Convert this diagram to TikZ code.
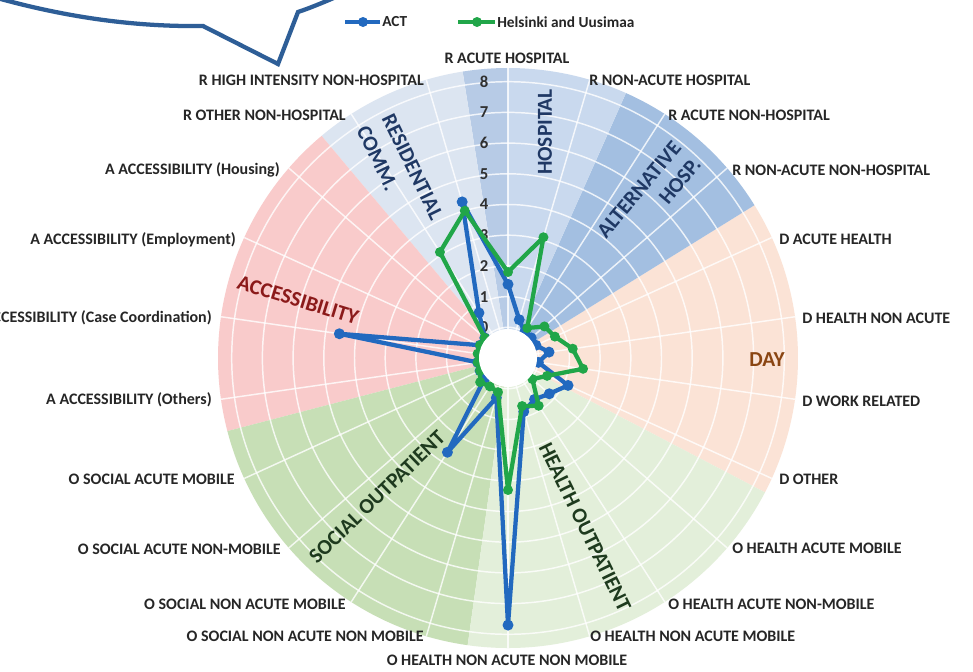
\documentclass[tikz,border=0pt]{standalone}
\usepackage{fontspec}
\setmainfont{Carlito}
\definecolor{actblue}{HTML}{2269BF}
\definecolor{helgreen}{HTML}{21A649}
\definecolor{labelgray}{HTML}{262626}
\definecolor{numgray}{HTML}{303030}
\definecolor{navy}{HTML}{1F3864}
\definecolor{dayc}{HTML}{FBE3D6}
\definecolor{althosp}{HTML}{A3BFE1}
\definecolor{hospA}{HTML}{C9D9EE}
\definecolor{hospB}{HTML}{B7CBE6}
\definecolor{resid}{HTML}{DCE5F1}
\definecolor{access}{HTML}{F9CBCB}
\definecolor{social}{HTML}{C7DFB6}
\definecolor{health}{HTML}{E3EFDA}
\definecolor{dayt}{HTML}{8A4512}
\definecolor{acct}{HTML}{8B1A1A}
\definecolor{greent}{HTML}{1E3A1E}
\definecolor{bubble}{HTML}{2E5E97}
\begin{document}
\begin{tikzpicture}[x=0.75pt,y=0.75pt,
  lbl/.style={font=\bfseries\fontsize{12}{14}\selectfont, text=labelgray, inner sep=0pt},
  cat/.style={font=\bfseries\fontsize{16}{19}\selectfont, inner sep=0pt},
  num/.style={font=\bfseries\fontsize{12.5}{14}\selectfont, text=numgray, inner sep=0pt},
  leg/.style={font=\bfseries\fontsize{11.5}{14}\selectfont, text=labelgray, inner sep=0pt, anchor=west},
  actline/.style={draw=actblue, line width=3.2pt, line join=round},
  helline/.style={draw=helgreen, line width=3.2pt, line join=round},
  gridline/.style={draw=white, line width=1.1pt, opacity=0.8}
]
\useasboundingbox (0,-671) rectangle (973,0);
\clip (0,-671) rectangle (973,0);
\fill[white] (0,-671) rectangle (973,0);
\coordinate (C) at (508,-358);

% background wedges
\fill[dayc]   (C) -- ([shift={(508,-358)}]-27.6:290) arc[start angle=-27.6, end angle=31.8, radius=290] -- cycle;
\fill[althosp](C) -- ([shift={(508,-358)}]31.8:290) arc[start angle=31.8, end angle=66, radius=290] -- cycle;
\fill[hospA]  (C) -- ([shift={(508,-358)}]66:290) arc[start angle=66, end angle=90, radius=290] -- cycle;
\fill[hospB]  (C) -- ([shift={(508,-358)}]90:290) arc[start angle=90, end angle=99, radius=290] -- cycle;
\fill[resid]  (C) -- ([shift={(508,-358)}]99:290) arc[start angle=99, end angle=130, radius=290] -- cycle;
\fill[access] (C) -- ([shift={(508,-358)}]130:290) arc[start angle=130, end angle=194.6, radius=290] -- cycle;
\fill[social] (C) -- ([shift={(508,-358)}]194.6:290) arc[start angle=194.6, end angle=262, radius=290] -- cycle;
\fill[health] (C) -- ([shift={(508,-358)}]262:290) arc[start angle=262, end angle=332.4, radius=290] -- cycle;

% grid
\foreach \k in {1,...,9} \draw[gridline] (C) circle ({30.7*\k});
\foreach \i in {0,...,21} \draw[gridline] (C) -- ([shift={(508,-358)}]{90-\i*360/22}:290);

% category labels
\node[cat, text=navy, rotate=90] (catHosp) at (545,-132) {HOSPITAL};
\node[cat, text=navy, rotate=-64, align=left, font=\bfseries\fontsize{16}{21}\selectfont] (catRes) at (400,-173) {RESIDENTIAL\\COMM.};
\node[cat, text=navy, rotate=50, align=right, font=\bfseries\fontsize{16}{19.5}\selectfont] (catAlt) at (649,-198) {ALTERNATIVE\\HOSP.};
\node[cat, text=dayt] (catDay) at (767,-360) {DAY};
\node[cat, text=greent, rotate=-64] (catHealth) at (585,-527) {HEALTH OUTPATIENT};
\node[cat, text=greent, rotate=44] (catSocial) at (377,-497) {SOCIAL OUTPATIENT};
\node[cat, text=acct, rotate=-17] (catAcc) at (298,-300) {ACCESSIBILITY};

% scale numbers
\foreach \n in {0,...,8} \node[num] (num\n) at (484,{-358+30.7*(\n+1)}) {\n};

% axis labels
\node[lbl] (l0) at (507,-58) {R ACUTE HOSPITAL};
\node[lbl, anchor=west] (l1) at (589,-80) {R NON-ACUTE HOSPITAL};
\node[lbl, anchor=west] (l2) at (668,-115) {R ACUTE NON-HOSPITAL};
\node[lbl, anchor=west] (l3) at (732,-170) {R NON-ACUTE NON-HOSPITAL};
\node[lbl, anchor=west] (l4) at (779,-239) {D ACUTE HEALTH};
\node[lbl, anchor=west] (l5) at (802,-318) {D HEALTH NON ACUTE};
\node[lbl, anchor=west] (l6) at (802,-401) {D WORK RELATED};
\node[lbl, anchor=west] (l7) at (779,-479) {D OTHER};
\node[lbl, anchor=west] (l8) at (732,-548) {O HEALTH ACUTE MOBILE};
\node[lbl, anchor=west] (l9) at (668,-604) {O HEALTH ACUTE NON-MOBILE};
\node[lbl, anchor=west] (l10) at (590,-636) {O HEALTH NON ACUTE MOBILE};
\node[lbl] (l11) at (507,-660) {O HEALTH NON ACUTE NON MOBILE};
\node[lbl, anchor=east] (l12) at (424,-636) {O SOCIAL NON ACUTE NON MOBILE};
\node[lbl, anchor=east] (l13) at (346,-604) {O SOCIAL NON ACUTE MOBILE};
\node[lbl, anchor=east] (l14) at (281,-549) {O SOCIAL ACUTE NON-MOBILE};
\node[lbl, anchor=east] (l15) at (235,-479) {O SOCIAL ACUTE MOBILE};
\node[lbl, anchor=east] (l16) at (212,-400) {A ACCESSIBILITY (Others)};
\node[lbl, anchor=east] (l17) at (212,-318) {A ACCESSIBILITY (Case Coordination)};
\node[lbl, anchor=east] (l18) at (236,-240) {A ACCESSIBILITY (Employment)};
\node[lbl, anchor=east] (l19) at (280,-170) {A ACCESSIBILITY (Housing)};
\node[lbl, anchor=east] (l20) at (346,-115) {R OTHER NON-HOSPITAL};
\node[lbl, anchor=east] (l21) at (424,-80) {R HIGH INTENSITY NON-HOSPITAL};

% data points
\foreach \v [count=\i from 0] in {1.4,0.3,0,0,0,0.35,0,1.15,0.78,0.6,0.82,7.7,0.35,2.65,0,0,0,4.55,0,0,0.75,4.3}
  {\pgfmathsetmacro\ang{90-\i*360/22}\pgfmathsetmacro\rad{30.7*(\v+1)}
   \coordinate (a\i) at ([shift={(508,-358)}]\ang:\rad);}
\foreach \v [count=\i from 0] in {1.8,3.1,0.16,0.57,0.68,1.13,1.47,0.4,0.05,0.85,0.63,3.3,0.16,0.1,0.2,0,0,0,0,0,3.1,4.0}
  {\pgfmathsetmacro\ang{90-\i*360/22}\pgfmathsetmacro\rad{30.7*(\v+1)}
   \coordinate (b\i) at ([shift={(508,-358)}]\ang:\rad);}

\draw[actline] (a0) \foreach \i in {1,...,21}{ -- (a\i)} -- cycle;
\foreach \i in {0,...,21} \fill[actblue] (a\i) circle (5.5);
\draw[helline] (b0) \foreach \i in {1,...,21}{ -- (b\i)} -- cycle;
\foreach \i in {0,...,21} \fill[helgreen] (b\i) circle (5);

% white centre
\fill[white] (C) circle (29);

% legend
\coordinate (la1) at (345,-22); \coordinate (la2) at (380,-22);
\draw[actblue, line width=3pt] (la1) -- (la2);
\fill[actblue] (363,-22) circle (5);
\node[leg] (legACT) at (382,-22) {ACT};
\coordinate (lb1) at (458,-22); \coordinate (lb2) at (495,-22);
\draw[helgreen, line width=3pt] (lb1) -- (lb2);
\fill[helgreen] (477,-22) circle (5);
\node[leg] (legHel) at (497,-22) {Helsinki and Uusimaa};

% speech bubble outline
\coordinate (s0) at (-10,4); \coordinate (s1) at (203,-26); \coordinate (s2) at (278,-64);
\coordinate (s3) at (298,-12); \coordinate (s4) at (336,3);
\draw[bubble, line width=3.2pt, line join=miter] (s0) .. controls (60,-16) and (130,-27) .. (s1) -- (s2) -- (s3) .. controls (310,-8) and (322,-3) .. (s4);
\end{tikzpicture}
\end{document}
